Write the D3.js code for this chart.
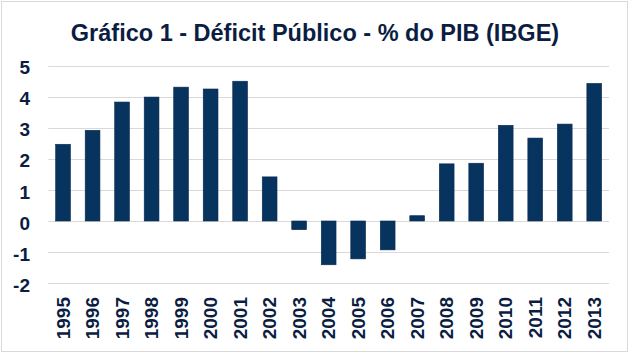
<!DOCTYPE html>
<html>
<head>
<meta charset="utf-8">
<script src="https://cdn.jsdelivr.net/npm/d3@7"></script>
<style>
  html, body { margin: 0; padding: 0; background: #fff; }
  svg { display: block; }
  text { font-family: "Liberation Sans", Arial, sans-serif; font-weight: bold; }
</style>
</head>
<body>
<svg id="chart" width="630" height="355"></svg>
<script>
const title = "Gráfico 1 - Déficit Público - % do PIB (IBGE)";
const years = ["1995","1996","1997","1998","1999","2000","2001","2002","2003","2004","2005","2006","2007","2008","2009","2010","2011","2012","2013"];
const deficit = [2.47, 2.92, 3.83, 3.99, 4.31, 4.25, 4.50, 1.42, -0.28, -1.41, -1.22, -0.93, 0.17, 1.84, 1.86, 3.08, 2.67, 3.12, 4.43];
const yTicks = [-2, -1, 0, 1, 2, 3, 4, 5];

const svg = d3.select("#chart");
const textColor = "#0b1d42";
const barColor = "#07335f";

svg.append("rect").attr("x", 0).attr("y", 0).attr("width", 630).attr("height", 355).attr("fill", "#fff");
svg.append("rect").attr("x", 1.5).attr("y", 1.5).attr("width", 626).attr("height", 350)
  .attr("fill", "none").attr("stroke", "#d9d9d9").attr("stroke-width", 1);

svg.append("text").attr("x", 315).attr("y", 41).attr("text-anchor", "middle")
  .attr("font-size", 23.5).attr("fill", textColor).text(title);

const y = d3.scaleLinear().domain([-2, 5]).range([283.1, 65.7]);
const x = d3.scaleBand().domain(years).range([48.3, 609]).paddingInner(0.5).paddingOuter(0.25);

// gridlines
svg.append("g").selectAll("line").data(yTicks).join("line")
  .attr("x1", 48.3).attr("x2", 609)
  .attr("y1", d => Math.round(y(d)) + 0.5).attr("y2", d => Math.round(y(d)) + 0.5)
  .attr("stroke", "#d9d9d9").attr("stroke-width", 1.2);

// y axis labels
const yAxis = d3.axisLeft(y).tickValues(yTicks).tickSize(0).tickPadding(0).tickFormat(d => String(d));
const yg = svg.append("g").attr("transform", "translate(30,2)").call(yAxis);
yg.select(".domain").remove();
yg.selectAll("text").attr("font-size", 19).attr("fill", textColor)
  .attr("font-family", "Liberation Sans, Arial, sans-serif").attr("font-weight", "bold");

// bars
svg.append("g").selectAll("rect").data(years).join("rect")
  .attr("x", (d) => x(d))
  .attr("width", x.bandwidth())
  .attr("y", (d, i) => y(Math.max(0, deficit[i])))
  .attr("height", (d, i) => Math.abs(y(deficit[i]) - y(0)))
  .attr("fill", barColor)
  .attr("stroke", "#0a2a52").attr("stroke-width", 0.6);

// x axis labels
const xAxis = d3.axisBottom(x).tickSize(0).tickPadding(0);
const xg = svg.append("g").attr("transform", "translate(0,297)").call(xAxis);
xg.select(".domain").remove();
xg.selectAll("text")
  .attr("font-size", 19).attr("fill", textColor)
  .attr("font-family", "Liberation Sans, Arial, sans-serif").attr("font-weight", "bold")
  .attr("transform", "rotate(-90)")
  .attr("text-anchor", "end")
  .attr("x", 0).attr("y", 0).attr("dy", "0.35em");
</script>
</body>
</html>
